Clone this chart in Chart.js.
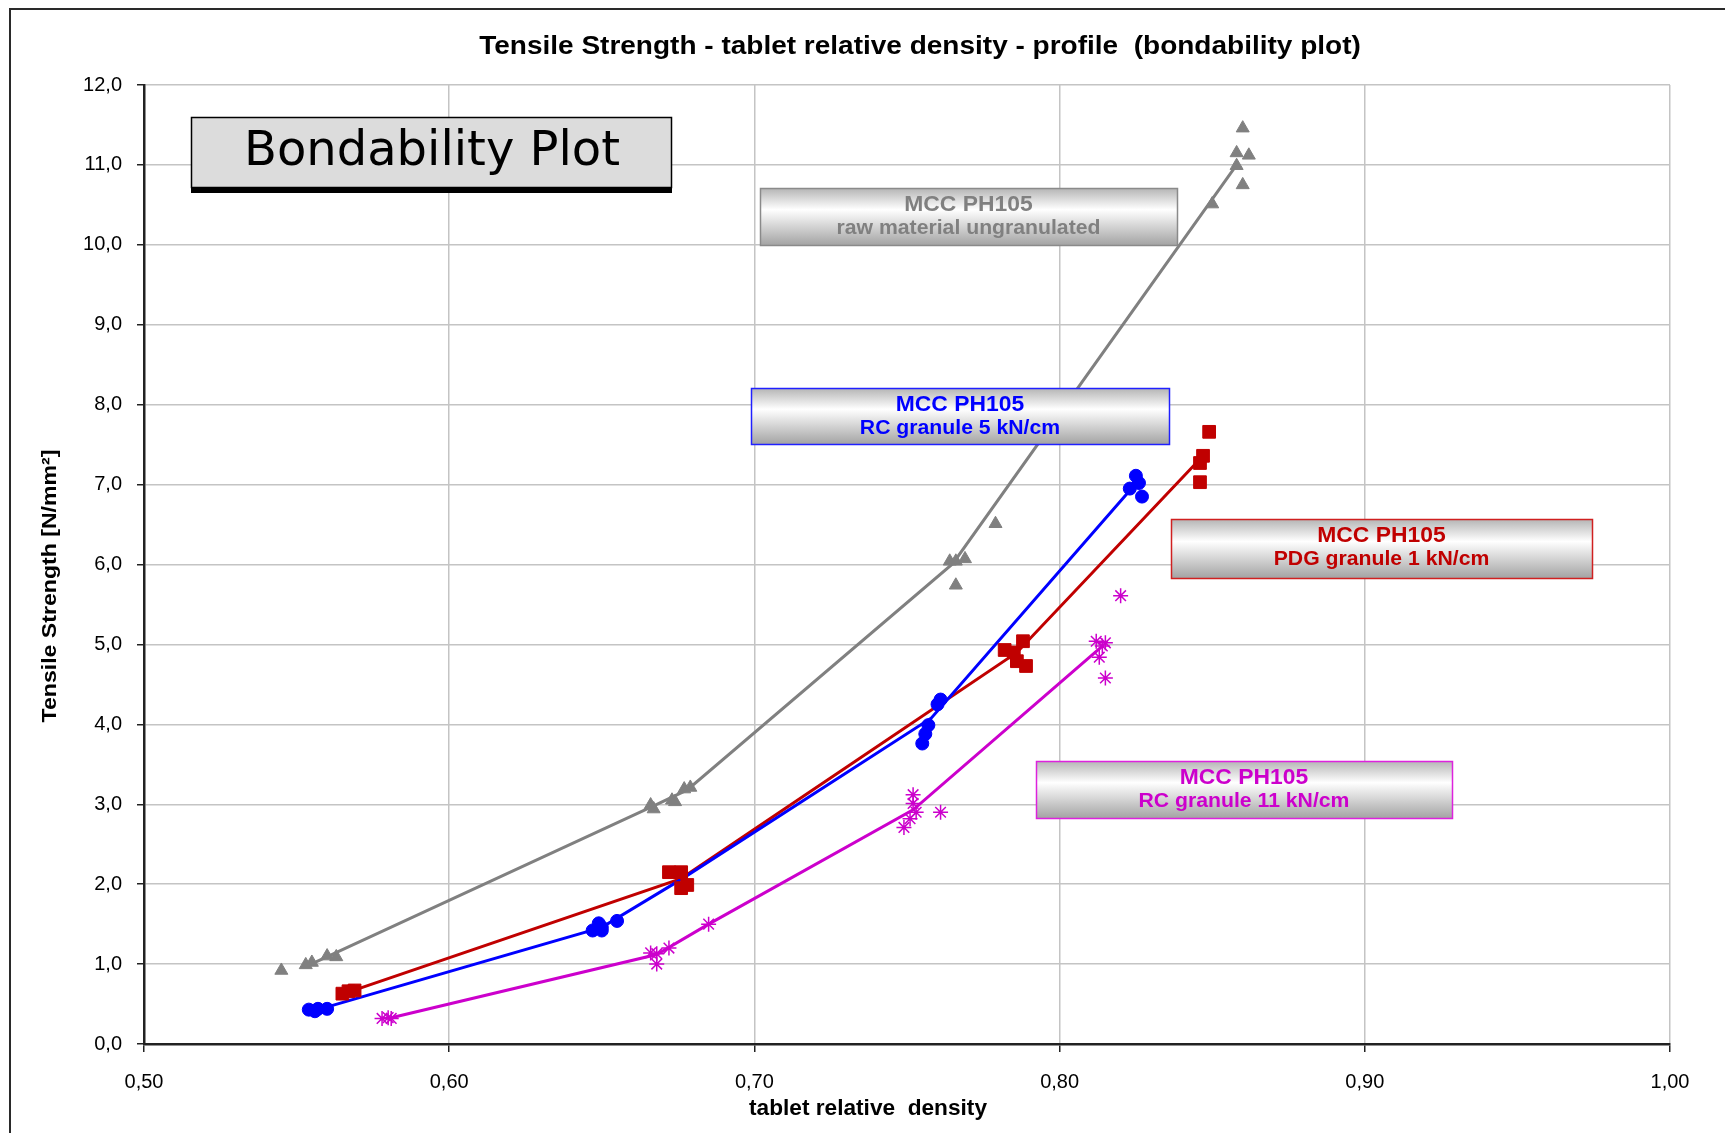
<!DOCTYPE html>
<html lang="en">
<head>
  <meta charset="UTF-8" />
  <title>Bondability Plot</title>
  <script src="https://cdn.jsdelivr.net/npm/chart.js"></script>
  <style>
    * {
      margin: 0;
      padding: 0;
      box-sizing: border-box;
    }

    body {
      background: #fff;
      width: 1725px;
      height: 1133px;
      overflow: hidden;
    }

    #wrap {
      position: relative;
      width: 1725px;
      height: 1133px;
    }
  </style>
</head>
<body>
  <div id="wrap">
    <canvas id="chart" width="1725" height="1133"></canvas>
  </div>

  <script>
    // ---- data ----
    const xTicks = [0.5, 0.6, 0.7, 0.8, 0.9, 1.0];
    const xTickLabels = ['0,50', '0,60', '0,70', '0,80', '0,90', '1,00'];
    const yTicks = [0, 1, 2, 3, 4, 5, 6, 7, 8, 9, 10, 11, 12];
    const yTickLabels = ['0,0', '1,0', '2,0', '3,0', '4,0', '5,0', '6,0', '7,0', '8,0', '9,0', '10,0', '11,0', '12,0'];

    // MCC PH105 raw material ungranulated (grey triangles)
    const rawDensity  = [0.545, 0.553, 0.555, 0.560, 0.563, 0.666, 0.667, 0.673, 0.674, 0.677, 0.679,
                         0.764, 0.766, 0.766, 0.769, 0.779, 0.850, 0.858, 0.858, 0.860, 0.860, 0.862];
    const rawStrength = [0.92, 0.99, 1.02, 1.10, 1.09, 2.99, 2.94, 3.05, 3.03, 3.19, 3.21,
                         6.04, 5.74, 6.04, 6.07, 6.51, 10.51, 10.99, 11.15, 10.75, 11.46, 11.12];
    const rawLineDensity  = [0.556, 0.667, 0.678, 0.765, 0.858];
    const rawLineStrength = [1.02, 2.98, 3.18, 6.01, 11.0];

    // MCC PH105 RC granule 5 kN/cm (blue circles)
    const rc5Density  = [0.554, 0.556, 0.557, 0.560, 0.647, 0.649, 0.650, 0.650, 0.655,
                         0.755, 0.756, 0.757, 0.760, 0.761, 0.823, 0.825, 0.826, 0.827];
    const rc5Strength = [0.43, 0.41, 0.44, 0.44, 1.42, 1.51, 1.42, 1.46, 1.54,
                         3.76, 3.88, 3.99, 4.25, 4.31, 6.95, 7.11, 7.02, 6.85];
    const rc5LineDensity  = [0.557, 0.650, 0.676, 0.758, 0.824];
    const rc5LineStrength = [0.43, 1.46, 2.06, 4.08, 6.97];

    // MCC PH105 PDG granule 1 kN/cm (red squares)
    const pdgDensity  = [0.565, 0.567, 0.569, 0.672, 0.676, 0.676, 0.678,
                         0.782, 0.785, 0.786, 0.788, 0.789, 0.846, 0.846, 0.847, 0.849];
    const pdgStrength = [0.63, 0.66, 0.67, 2.15, 2.15, 1.95, 1.99,
                         4.93, 4.90, 4.79, 5.04, 4.73, 7.03, 7.27, 7.36, 7.66];
    const pdgLineDensity  = [0.567, 0.676, 0.786, 0.845];
    const pdgLineStrength = [0.65, 2.07, 4.90, 7.28];

    // MCC PH105 RC granule 11 kN/cm (magenta asterisks)
    const rc11Density  = [0.578, 0.580, 0.581, 0.666, 0.668, 0.668, 0.672, 0.685,
                          0.749, 0.751, 0.752, 0.752, 0.753, 0.761,
                          0.812, 0.813, 0.814, 0.815, 0.815, 0.820];
    const rc11Strength = [0.32, 0.33, 0.32, 1.14, 1.00, 1.13, 1.20, 1.50,
                          2.71, 2.82, 3.12, 3.01, 2.90, 2.90,
                          5.04, 4.84, 4.98, 5.02, 4.58, 5.61];
    const rc11LineDensity  = [0.580, 0.668, 0.685, 0.752, 0.814];
    const rc11LineStrength = [0.32, 1.12, 1.50, 2.93, 4.98];

    const titleText = 'Tensile Strength - tablet relative density - profile  (bondability plot)';
    const xTitle = 'tablet relative  density';
    const yTitle = 'Tensile Strength [N/mm\u00B2]';
    const bigLabel = 'Bondability Plot';
    const boxTexts = [
      ['MCC PH105', 'raw material ungranulated'],
      ['MCC PH105', 'RC granule 5 kN/cm'],
      ['MCC PH105', 'PDG granule 1 kN/cm'],
      ['MCC PH105', 'RC granule 11 kN/cm']
    ];

    // ---- styling / layout ----
    const GREY = '#808080';
    const BLUE = '#0000ff';
    const RED = '#c00000';
    const MAGENTA = '#cc00cc';
    const FONT = '"Liberation Sans", Arial, sans-serif';

    // box placement in canvas pixels
    const boxLayout = [
      { x: 760, y: 188, w: 417, h: 57, color: GREY, border: '#8a8a8a' },
      { x: 751, y: 388, w: 418, h: 56, color: BLUE, border: '#2020ff' },
      { x: 1171, y: 519, w: 421, h: 59, color: RED, border: '#d02020' },
      { x: 1036, y: 761, w: 416, h: 57, color: MAGENTA, border: '#dd22dd' }
    ];

    function toPoints(xs, ys) {
      return xs.map((x, i) => ({ x: x, y: ys[i] }));
    }

    function pointSet(xs, ys, color, style, radius) {
      return {
        data: toPoints(xs, ys),
        showLine: false,
        pointStyle: style,
        pointRadius: radius,
        pointBackgroundColor: color,
        pointBorderColor: color,
        pointBorderWidth: style === 'star' ? 1.5 : 1,
        order: 1
      };
    }

    function lineSet(xs, ys, color) {
      return {
        data: toPoints(xs, ys),
        showLine: true,
        borderColor: color,
        borderWidth: 3,
        pointRadius: 0,
        fill: false,
        tension: 0,
        order: 2
      };
    }

    // draws text squeezed/stretched horizontally by sx
    function wideText(ctx, text, x, y, sx) {
      ctx.save();
      ctx.translate(x, y);
      ctx.scale(sx, 1);
      ctx.fillText(text, 0, 0);
      ctx.restore();
    }

    // white page, frame, titles and text boxes
    const decorations = {
      id: 'decorations',
      beforeDraw(chart) {
        const ctx = chart.ctx;
        ctx.save();
        ctx.fillStyle = '#fff';
        ctx.fillRect(0, 0, chart.width, chart.height);
        ctx.strokeStyle = '#2a2a2a';
        ctx.lineWidth = 2;
        ctx.beginPath();
        ctx.moveTo(10, chart.height);
        ctx.lineTo(10, 9);
        ctx.lineTo(chart.width, 9);
        ctx.stroke();

        ctx.fillStyle = '#000';
        ctx.textAlign = 'center';
        ctx.textBaseline = 'middle';
        ctx.font = 'bold 25px ' + FONT;
        wideText(ctx, titleText, 920, 47, 1.12);

        ctx.font = 'bold 22px ' + FONT;
        wideText(ctx, xTitle, 868, 1109, 1.03);

        ctx.save();
        ctx.translate(50, 586);
        ctx.rotate(-Math.PI / 2);
        ctx.font = 'bold 21px ' + FONT;
        wideText(ctx, yTitle, 0, 0, 1.1);
        ctx.restore();
        ctx.restore();
      },
      afterDatasetsDraw(chart) {
        const ctx = chart.ctx;
        ctx.save();

        // big "Bondability Plot" label
        ctx.fillStyle = '#000';
        ctx.fillRect(191, 186, 481, 7);
        ctx.fillStyle = '#dcdcdc';
        ctx.fillRect(191, 117, 481, 70);
        ctx.strokeStyle = '#000';
        ctx.lineWidth = 1.5;
        ctx.strokeRect(191.5, 117.5, 480, 70);
        ctx.fillStyle = '#000';
        ctx.font = '48px "DejaVu Sans", Verdana, sans-serif';
        ctx.textAlign = 'center';
        ctx.textBaseline = 'middle';
        ctx.fillText(bigLabel, 432, 153);

        // series labels
        boxLayout.forEach((b, i) => {
          const g = ctx.createLinearGradient(0, b.y, 0, b.y + b.h);
          g.addColorStop(0, '#b4b4b4');
          g.addColorStop(0.38, '#ffffff');
          g.addColorStop(1, '#a4a4a4');
          ctx.fillStyle = g;
          ctx.fillRect(b.x, b.y, b.w, b.h);
          ctx.strokeStyle = b.border;
          ctx.lineWidth = 1.5;
          ctx.strokeRect(b.x + 0.5, b.y + 0.5, b.w, b.h);

          ctx.fillStyle = b.color;
          ctx.textAlign = 'center';
          ctx.textBaseline = 'middle';
          ctx.font = 'bold 22px ' + FONT;
          wideText(ctx, boxTexts[i][0], b.x + b.w / 2, b.y + 17, 1.04);
          ctx.font = 'bold 20px ' + FONT;
          wideText(ctx, boxTexts[i][1], b.x + b.w / 2, b.y + 40, 1.06);
        });
        ctx.restore();
      }
    };

    const ctx = document.getElementById('chart').getContext('2d');
    new Chart(ctx, {
      type: 'scatter',
      data: {
        datasets: [
          pointSet(rawDensity, rawStrength, GREY, 'triangle', 7.5),
          pointSet(rc5Density, rc5Strength, BLUE, 'circle', 6.5),
          pointSet(pdgDensity, pdgStrength, RED, 'rect', 9),
          pointSet(rc11Density, rc11Strength, MAGENTA, 'star', 7.5),
          lineSet(rawLineDensity, rawLineStrength, GREY),
          lineSet(rc5LineDensity, rc5LineStrength, BLUE),
          lineSet(pdgLineDensity, pdgLineStrength, RED),
          lineSet(rc11LineDensity, rc11LineStrength, MAGENTA)
        ]
      },
      options: {
        responsive: false,
        animation: false,
        devicePixelRatio: 1,
        layout: {
          padding: { top: 85, right: 55, bottom: 0, left: 0 }
        },
        plugins: {
          legend: { display: false },
          title: { display: false },
          tooltip: { enabled: false }
        },
        scales: {
          x: {
            type: 'linear',
            min: 0.5,
            max: 1.0,
            afterBuildTicks: (scale) => {
              scale.ticks = xTicks.map(v => ({ value: v }));
            },
            afterFit: (scale) => {
              scale.height = 89;
            },
            ticks: {
              callback: (v, i) => xTickLabels[i],
              color: '#000',
              font: { family: FONT, size: 20 },
              padding: 18,
              maxRotation: 0
            },
            grid: {
              color: '#c4c4c4',
              lineWidth: 1.5,
              tickColor: '#222',
              tickLength: 8
            },
            border: { color: '#222', width: 2.5 }
          },
          y: {
            type: 'linear',
            min: 0,
            max: 12,
            afterBuildTicks: (scale) => {
              scale.ticks = yTicks.map(v => ({ value: v }));
            },
            afterFit: (scale) => {
              scale.width = 144;
            },
            ticks: {
              callback: (v, i) => yTickLabels[i],
              color: '#000',
              font: { family: FONT, size: 20 },
              padding: 15
            },
            grid: {
              color: '#c4c4c4',
              lineWidth: 1.5,
              tickColor: '#222',
              tickLength: 7
            },
            border: { color: '#222', width: 2.5 }
          }
        }
      },
      plugins: [decorations]
    });
  </script>
</body>
</html>
